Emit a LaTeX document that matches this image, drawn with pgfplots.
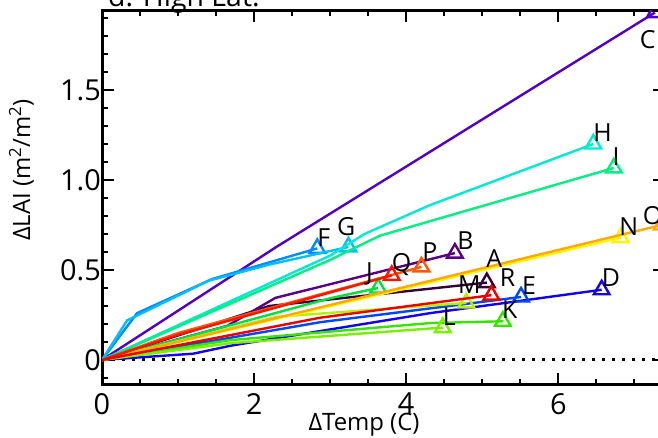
\documentclass[border=0pt]{standalone}
\usepackage{fontspec}
\setmainfont{Open Sans}
\usepackage{pgfplots}
\pgfplotsset{compat=1.18}
\definecolor{cA}{RGB}{50,0,60}
\definecolor{cB}{RGB}{90,0,130}
\definecolor{cC}{RGB}{80,0,200}
\definecolor{cD}{RGB}{20,0,240}
\definecolor{cE}{RGB}{0,70,255}
\definecolor{cF}{RGB}{0,140,255}
\definecolor{cG}{RGB}{0,190,255}
\definecolor{cH}{RGB}{0,235,210}
\definecolor{cI}{RGB}{0,240,130}
\definecolor{cJ}{RGB}{0,225,60}
\definecolor{cK}{RGB}{50,230,0}
\definecolor{cL}{RGB}{120,240,0}
\definecolor{cM}{RGB}{180,240,0}
\definecolor{cN}{RGB}{255,245,0}
\definecolor{cO}{RGB}{255,170,0}
\definecolor{cP}{RGB}{255,90,0}
\definecolor{cQ}{RGB}{255,20,0}
\definecolor{cR}{RGB}{235,0,0}
\pgfplotsset{
  ser/.style={#1, line width=2.4bp, no marks},
  tri/.style={#1, only marks, mark=triangle, mark size=9bp, mark options={line width=2.4bp, solid}},
}
\tikzset{lab/.style={anchor=base west, inner sep=0pt, font=\fontsize{25}{25}\selectfont, text=black}}
\begin{document}
\begin{tikzpicture}
\useasboundingbox (0,0) rectangle (658bp,438bp);
\clip (0,0) rectangle (658bp,438bp);
\begin{axis}[
  at={(102bp,53bp)}, anchor=south west,
  x=76.05bp, y=180bp,
  xmin=0, xmax=7.4, ymin=-0.139, ymax=1.944,
  axis line style={line width=3bp},
  xtick={0,2,4,6}, xticklabels={0,2,4,6},
  ytick={0,0.5,1,1.5}, yticklabels={0,0.5,1.0,1.5},
  minor xtick={0.5,1,1.5,2.5,3,3.5,4.5,5,5.5,6.5,7},
  minor ytick={-0.1,0.1,0.2,0.3,0.4,0.6,0.7,0.8,0.9,1.1,1.2,1.3,1.4,1.6,1.7,1.8,1.9},
  tick align=inside,
  major tick length=12bp, minor tick length=6bp,
  every tick/.style={black, line width=2bp},
  ticklabel style={font=\fontsize{29}{29}\selectfont},
  /pgf/number format/assume math mode=true,
  yticklabel style={inner sep=1bp},
  xticklabel style={inner sep=0bp, yshift=-8bp},
  clip marker paths=true,
]
\addplot[black, line width=3bp, dash pattern=on 3bp off 7bp] coordinates {(0,0) (7.4,0)};
\addplot[ser=cA] coordinates {(0,0) (2.2,0.30) (5.06,0.43)};
\addplot[tri=cA] coordinates {(5.06,0.43)};
\addplot[ser=cB] coordinates {(0,0) (1.65,0.19) (2.28,0.345) (4.64,0.594)};
\addplot[tri=cB] coordinates {(4.64,0.594)};
\addplot[ser=cC] coordinates {(0,0) (2.3,0.63) (7.27,1.93)};
\addplot[tri=cC] coordinates {(7.27,1.93)};
\addplot[ser=cD] coordinates {(0,0) (1.2,0.035) (1.7,0.08) (4.31,0.26) (6.57,0.39)};
\addplot[tri=cD] coordinates {(6.57,0.39)};
\addplot[ser=cE] coordinates {(0,0) (2.87,0.21) (5.51,0.35)};
\addplot[tri=cE] coordinates {(5.51,0.35)};
\addplot[ser=cF] coordinates {(0,0) (0.46,0.26) (1.45,0.45) (2.83,0.62)};
\addplot[tri=cF] coordinates {(2.83,0.62)};
\addplot[ser=cG] coordinates {(0,0) (0.33,0.22) (1.40,0.44) (2.2,0.53) (3.24,0.628)};
\addplot[tri=cG] coordinates {(3.24,0.628)};
\addplot[ser=cH] coordinates {(0,0) (3.0,0.58) (3.45,0.70) (4.31,0.86) (6.46,1.20)};
\addplot[tri=cH] coordinates {(6.46,1.20)};
\addplot[ser=cI] coordinates {(0,0) (3.0,0.556) (3.65,0.69) (6.73,1.067)};
\addplot[tri=cI] coordinates {(6.73,1.067)};
\addplot[ser=cJ] coordinates {(0,0) (3.0,0.343) (3.63,0.40)};
\addplot[tri=cJ] coordinates {(3.63,0.40)};
\addplot[ser=cK] coordinates {(0,0) (1.68,0.11) (4.31,0.205) (5.27,0.215)};
\addplot[tri=cK] coordinates {(5.27,0.215)};
\addplot[ser=cL] coordinates {(0,0) (1.68,0.093) (4.48,0.18)};
\addplot[tri=cL] coordinates {(4.48,0.18)};
\addplot[ser=cM] coordinates {(0,0) (2.3,0.24) (4.79,0.317)};
\addplot[tri=cM] coordinates {(4.79,0.317)};
\addplot[ser=cN] coordinates {(0,0) (6.82,0.68)};
\addplot[tri=cN] coordinates {(6.82,0.68)};
\addplot[ser=cO] coordinates {(0,0) (7.36,0.75)};
\addplot[tri=cO] coordinates {(7.36,0.75)};
\addplot[ser=cP] coordinates {(0,0) (1.0,0.15) (4.20,0.517)};
\addplot[tri=cP] coordinates {(4.20,0.517)};
\addplot[ser=cQ] coordinates {(0,0) (1.0,0.14) (3.81,0.47)};
\addplot[tri=cQ] coordinates {(3.81,0.47)};
\addplot[ser=cR] coordinates {(0,0) (2.87,0.235) (5.12,0.36)};
\addplot[tri=cR] coordinates {(5.12,0.36)};
\node[lab] at (axis cs:5.05,0.511) {A};
\node[lab] at (axis cs:4.67,0.611) {B};
\node[lab] at (axis cs:7.07,1.733) {C};
\node[lab] at (axis cs:6.57,0.406) {D};
\node[lab] at (axis cs:5.52,0.361) {E};
\node[lab] at (axis cs:2.83,0.628) {F};
\node[lab] at (axis cs:3.09,0.694) {G};
\node[lab] at (axis cs:6.46,1.211) {H};
\node[lab] at (axis cs:6.71,1.083) {I};
\node[lab] at (axis cs:3.47,0.444) {J};
\node[lab] at (axis cs:5.26,0.233) {K};
\node[lab] at (axis cs:4.48,0.194) {L};
\node[lab] at (axis cs:4.68,0.367) {M};
\node[lab] at (axis cs:6.80,0.694) {N};
\node[lab] at (axis cs:7.11,0.75) {O};
\node[lab] at (axis cs:4.21,0.55) {P};
\node[lab] at (axis cs:3.81,0.489) {Q};
\node[lab] at (axis cs:5.23,0.406) {R};
\end{axis}
\node[anchor=base west, inner sep=0pt, font=\fontsize{28.5}{30}\selectfont] at (108bp,431bp) {d. High Lat.};
\node[anchor=base, inner sep=0pt, font=\fontsize{24}{24}\selectfont] at (364bp,8bp) {ΔTemp (C)};
\node[anchor=base, rotate=90, inner sep=0pt, font=\fontsize{24}{24}\selectfont] at (30bp,268bp) {ΔLAI (m\textsuperscript{2}/m\textsuperscript{2})};
\end{tikzpicture}
\end{document}
